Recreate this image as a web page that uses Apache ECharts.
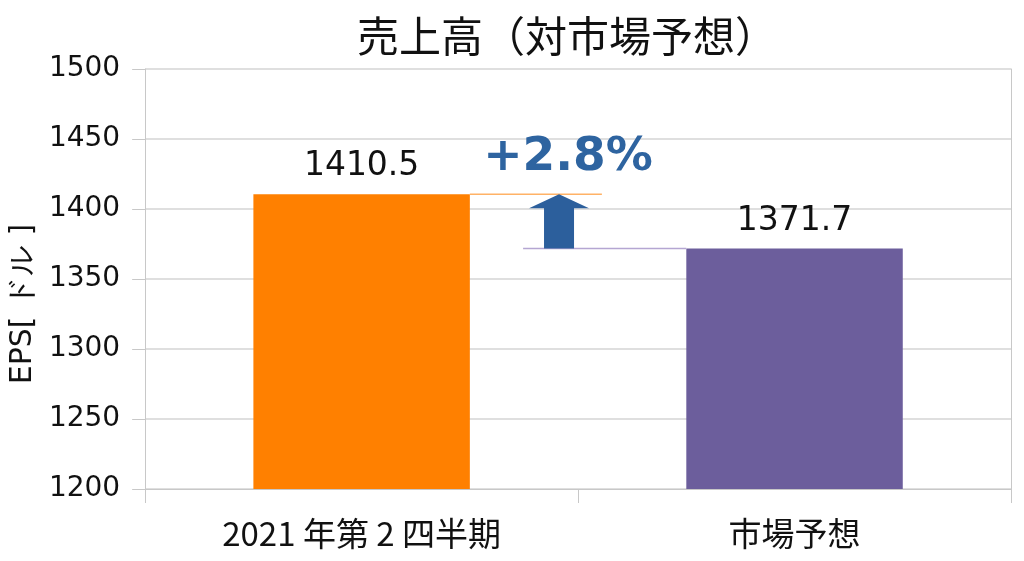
<!DOCTYPE html>
<html>
<head>
    <meta charset="utf-8" />
    <script src="https://cdn.jsdelivr.net/npm/echarts@6/dist/echarts.min.js"></script>
    <style>
        html, body { margin: 0; padding: 0; background: #fff; }
        #main { width: 1024px; height: 561px; }
    </style>
</head>
<body>
    <div id="main"></div>
    <script type="text/javascript">
        // 表示データ
        var categories = ['2021 年第 2 四半期', '市場予想'];
        var values = [1410.5, 1371.7];
        var barColors = ['#ff8000', '#6c5e9c'];
        var yTicks = { min: 1200, max: 1500, interval: 50 };

        var actual = values[0];
        var forecast = values[1];
        var diffText = '+' + ((actual / forecast - 1) * 100).toFixed(1) + '%';

        var myChart = echarts.init(document.getElementById('main'));

        // 棒の間の補助線・矢印・差分表示
        function renderDiff(params, api) {
            var band = api.size([1, 0])[0];
            var p0 = api.coord([0, api.value(1)]);
            var p1 = api.coord([1, api.value(2)]);
            var x0 = p0[0], x1 = p1[0];
            var yTop = p0[1], yLow = p1[1];
            var xc = x0 + band * 0.456;
            var headH = 14;
            return {
                type: 'group',
                children: [
                    {
                        type: 'line',
                        shape: { x1: x0 + band * 0.25, y1: yTop, x2: x0 + band * 0.555, y2: yTop },
                        style: { stroke: '#ffb266', lineWidth: 1.5 }
                    },
                    {
                        type: 'line',
                        shape: { x1: x0 + band * 0.373, y1: yLow, x2: x1 - band * 0.25, y2: yLow },
                        style: { stroke: '#b5a6d2', lineWidth: 1.5 }
                    },
                    {
                        type: 'polygon',
                        shape: {
                            points: [
                                [xc, yTop],
                                [xc + 30, yTop + headH],
                                [xc + 15, yTop + headH],
                                [xc + 15, yLow],
                                [xc - 15, yLow],
                                [xc - 15, yTop + headH],
                                [xc - 30, yTop + headH]
                            ]
                        },
                        style: { fill: '#2c5f9c' }
                    },
                    {
                        type: 'text',
                        style: {
                            text: diffText,
                            x: xc + 9,
                            y: yTop - 37,
                            fill: '#2e64a0',
                            fontSize: 47,
                            fontWeight: 'bold',
                            fontFamily: 'DejaVu Sans',
                            align: 'center',
                            verticalAlign: 'middle'
                        }
                    }
                ]
            };
        }

        var option = {
            animation: false,
            title: {
                text: '売上高（対市場予想）',
                left: 562,
                textAlign: 'center',
                top: 10,
                textStyle: {
                    fontFamily: 'Noto Sans CJK JP',
                    fontSize: 42,
                    fontWeight: 'normal',
                    color: '#111'
                }
            },
            grid: { left: 143, right: 13, top: 69, bottom: 72 },
            xAxis: {
                type: 'category',
                data: categories,
                axisLine: { lineStyle: { color: '#c8c8c8' } },
                axisTick: { show: true, length: 14, lineStyle: { color: '#c8c8c8' } },
                axisLabel: {
                    margin: 28,
                    fontFamily: 'Noto Sans CJK JP',
                    fontSize: 33,
                    color: '#111'
                }
            },
            yAxis: [
                {
                    type: 'value',
                    min: yTicks.min,
                    max: yTicks.max,
                    interval: yTicks.interval,
                    name: 'EPS[ ドル ]',
                    nameLocation: 'middle',
                    nameRotate: 90,
                    nameGap: 96,
                    nameTextStyle: {
                        fontFamily: 'DejaVu Sans',
                        fontSize: 30,
                        color: '#111',
                        padding: [0, 50, 0, 0]
                    },
                    axisLine: { show: true, lineStyle: { color: '#c8c8c8' } },
                    axisTick: { show: true, length: 13, lineStyle: { color: '#c8c8c8' } },
                    axisLabel: {
                        margin: 25,
                        fontFamily: 'DejaVu Sans',
                        fontSize: 28,
                        color: '#111',
                        formatter: function (v) { return String(v); }
                    },
                    splitLine: { lineStyle: { color: '#d4d4d4', width: 1.5 } }
                },
                {
                    type: 'value',
                    position: 'right',
                    min: yTicks.min,
                    max: yTicks.max,
                    interval: yTicks.interval,
                    axisLine: { show: true, lineStyle: { color: '#c8c8c8' } },
                    axisTick: { show: false },
                    axisLabel: { show: false },
                    splitLine: { show: false }
                }
            ],
            series: [
                {
                    type: 'bar',
                    barWidth: '50%',
                    data: values.map(function (v, i) {
                        return { value: v, itemStyle: { color: barColors[i] } };
                    }),
                    label: {
                        show: true,
                        position: 'top',
                        distance: 11,
                        fontFamily: 'DejaVu Sans',
                        fontSize: 33,
                        color: '#111'
                    }
                },
                {
                    type: 'custom',
                    renderItem: renderDiff,
                    data: [[0, actual, forecast]],
                    z: 5,
                    silent: true
                }
            ]
        };

        myChart.setOption(option);
    </script>
</body>
</html>
